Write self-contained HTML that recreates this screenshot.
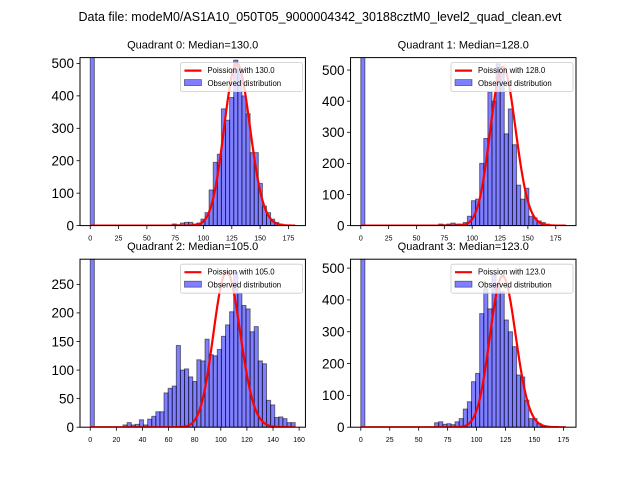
<!DOCTYPE html>
<html><head><meta charset="utf-8"><style>
html,body{margin:0;padding:0;background:#fff;}
svg{display:block;font-family:"Liberation Sans","DejaVu Sans",sans-serif;}
</style></head><body>
<svg id="fig" width="640" height="480" viewBox="0 0 640 480">
<text x="320" y="21" text-anchor="middle" font-size="12.5">Data file: modeM0/AS1A10_050T05_9000004342_30188cztM0_level2_quad_clean.evt</text>
</svg>
<script>
const quadNames = ["Quadrant 0","Quadrant 1","Quadrant 2","Quadrant 3"];
const medians = [130.0, 128.0, 105.0, 123.0];
const binMax = [181, 184, 157, 177];
const yMax = [518, 540, 294, 528];
const poissonPeak = [500, 510, 272, 475];
const xTickVals = [[0,25,50,75,100,125,150,175],[0,25,50,75,100,125,150,175],[0,20,40,60,80,100,120,140,160],[0,25,50,75,100,125,150,175]];
const yTickVals = [[0,100,200,300,400,500],[0,100,200,300,400,500],[0,50,100,150,200,250],[0,100,200,300,400,500]];
const countsQ0 = [600,0,0,0,0,0,0,0,0,0,0,0,0,0,0,0,0,0,0,0,5,3,8,10,10,5,8,20,40,110,195,220,360,325,395,510,480,400,345,225,225,130,60,40,20,10,5,2,0,0];
const countsQ1 = [600,0,0,0,0,0,0,0,0,0,0,0,0,0,0,0,0,0,0,5,3,5,8,5,5,10,30,80,85,200,280,430,400,520,490,295,375,260,130,85,120,30,25,15,10,5,2,0,0,0];
const countsQ2 = [300,0,0,0,0,0,0,0,4,8,4,5,13,4,14,19,27,27,60,68,72,143,100,102,88,80,118,116,154,127,125,136,159,179,202,271,234,213,207,167,176,116,111,47,39,17,18,15,8,8];
const countsQ3 = [600,0,0,0,0,0,0,0,0,0,0,0,0,0,0,0,0,0,14,17,9,11,8,17,27,57,80,143,169,357,435,372,483,450,426,337,300,253,164,158,85,27,27,12,5,3,0,0,0,0];
const allCounts = [countsQ0,countsQ1,countsQ2,countsQ3];

const NS = "http://www.w3.org/2000/svg";
const fig = document.getElementById('fig');
const axW = 225.45, axH = 168;
const axPos = [[80,57.6],[350.55,57.6],[80,259.2],[350.55,259.2]];
function mk(tag, attrs, parent){const e=document.createElementNS(NS,tag);for(const k in attrs)e.setAttribute(k,attrs[k]);(parent||fig).appendChild(e);return e;}
function logFact(n){let s=0;for(let i=2;i<=n;i++)s+=Math.log(i);return s;}

for(let q=0;q<4;q++){
  const [ax,ay]=axPos[q];
  const counts=allCounts[q];
  const nb=counts.length, bw=binMax[q]/nb;
  const xmin=-0.05*binMax[q], xmax=binMax[q]*1.05;
  const X=v=>ax+(v-xmin)/(xmax-xmin)*axW;
  const Y=v=>ay+axH-v/yMax[q]*axH;
  const g=mk('g',{});
  
  
  const cp=mk('clipPath',{id:'cp'+q},g);
  mk('rect',{x:ax,y:ay,width:axW,height:axH},cp);
  const bars=mk('g',{'clip-path':'url(#cp'+q+')'},g);
  for(let i=0;i<nb;i++){
    if(counts[i]<=0)continue;
    const r=mk('rect',{x:X(i*bw),y:Y(counts[i]),width:X((i+1)*bw)-X(i*bw),height:Y(0)-Y(counts[i]),fill:'rgba(0,0,255,0.5)',stroke:'rgba(0,0,0,0.5)','stroke-width':1},bars);
    
    
  }
  const lam=medians[q];
  const lp=k=>-lam+k*Math.log(lam)-logFact(k);
  const peakLog=lp(Math.floor(lam));
  let d='';
  for(let k=0;k<=Math.round(binMax[q]);k++){
    const v=poissonPeak[q]*Math.exp(lp(k)-peakLog);
    d+=(k?'L':'M')+X(k).toFixed(2)+','+Y(v).toFixed(2);
  }
  const pl=mk('path',{d:d,fill:'none',stroke:'#ff0000','stroke-width':2.2},bars);
  
  
  const fr=mk('rect',{x:ax,y:ay,width:axW,height:axH,fill:'none',stroke:'#000','stroke-width':1},g);
  
  
  for(const t of xTickVals[q]){
    const x=X(t);
    mk('line',{x1:x,x2:x,y1:ay+axH,y2:ay+axH+3.5,stroke:'#000','stroke-width':0.8},g);
    const tx=mk('text',{x:x,y:ay+axH+15,'text-anchor':'middle','font-size':7},g);
    tx.textContent=t;
    
    
  }
  for(const t of yTickVals[q]){
    const y=Y(t);
    mk('line',{x1:ax-3.5,x2:ax,y1:y,y2:y,stroke:'#000','stroke-width':0.8},g);
    const tx=mk('text',{x:ax-6,y:y+4.8,'text-anchor':'end','font-size':13.5},g);
    tx.textContent=t;
    
    
  }
  const ti=mk('text',{x:ax+axW/2,y:ay-9,'text-anchor':'middle','font-size':11},g);
  ti.textContent=quadNames[q]+': Median='+medians[q].toFixed(1);
  
  
  const lg=mk('g',{},g);
  
  
  const lx=ax+axW-125, ly=ay+5;
  mk('rect',{x:lx,y:ly,width:122,height:29,rx:2,fill:'rgba(255,255,255,0.8)',stroke:'#ccc','stroke-width':0.8},lg);
  mk('line',{x1:lx+4,x2:lx+21,y1:ly+8,y2:ly+8,stroke:'#ff0000','stroke-width':2.2},lg);
  const t1=mk('text',{x:lx+27,y:ly+10.5,'font-size':7.8},lg);
  t1.textContent='Poission with '+medians[q].toFixed(1);
  
  
  mk('rect',{x:lx+4,y:ly+17,width:17,height:6,fill:'rgba(0,0,255,0.5)',stroke:'rgba(0,0,0,0.5)','stroke-width':0.8},lg);
  const t2=mk('text',{x:lx+27,y:ly+23.5,'font-size':7.8},lg);
  t2.textContent='Observed distribution';
  
  
}
</script>
</body></html>
